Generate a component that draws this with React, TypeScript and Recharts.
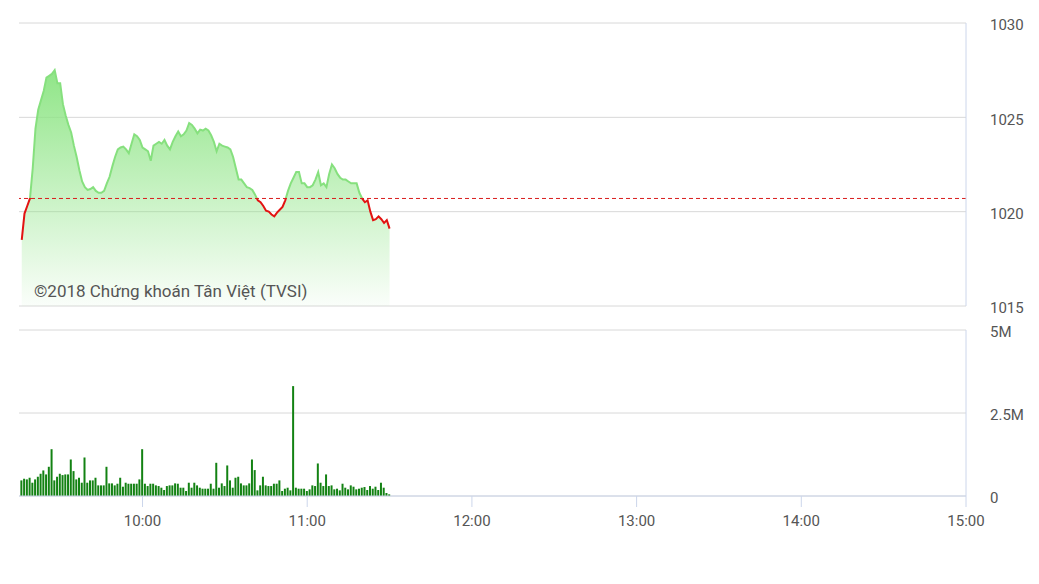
import { ComposedChart, Area, BarChart, Bar, XAxis, YAxis, CartesianGrid, ReferenceLine } from 'recharts'

// session / axis setup
const SESSION_START = '09:15'
const SESSION_END = '15:00'
const FIRST_TICK = '09:16'
const timeTicks = ['10:00', '11:00', '12:00', '13:00', '14:00', '15:00']
const priceTicks = [1015, 1020, 1025, 1030]
const volumeTicks = [0, 2.5, 5]
const refPrice = 1020.7

// VN-Index, one value per minute from 09:16
const priceValues = [
  1018.5, 1019.9, 1020.3, 1020.7, 1022.3, 1024.4, 1025.4, 1025.9, 1026.4, 1027.1,
  1027.2, 1027.3, 1027.5, 1026.8, 1026.8, 1025.7, 1025.1, 1024.6, 1024.2, 1023.5,
  1022.9, 1022.2, 1021.6, 1021.3, 1021.15, 1021.2, 1021.3, 1021.1, 1021.0, 1021.0,
  1021.1, 1021.5, 1021.85, 1022.4, 1022.9, 1023.3, 1023.4, 1023.45, 1023.3, 1023.1,
  1023.6, 1024.1, 1024.0, 1023.8, 1023.4, 1023.3, 1023.2, 1022.7, 1023.5, 1023.6,
  1023.7, 1023.6, 1023.8, 1023.5, 1023.3, 1023.7, 1024.0, 1024.25, 1024.0, 1024.1,
  1024.3, 1024.7, 1024.6, 1024.4, 1024.15, 1024.35, 1024.3, 1024.4, 1024.3, 1024.05,
  1023.7, 1023.2, 1023.6, 1023.5, 1023.45, 1023.4, 1023.3, 1022.9, 1022.3, 1021.7,
  1021.7, 1021.5, 1021.3, 1021.25, 1021.15, 1020.9, 1020.6, 1020.5, 1020.3, 1020.05,
  1020.0, 1019.85, 1019.75, 1019.95, 1020.1, 1020.25, 1020.6, 1021.1, 1021.5, 1021.8,
  1022.1, 1022.1, 1021.5, 1021.5, 1021.3, 1021.3, 1021.4, 1021.7, 1022.1, 1021.4,
  1021.5, 1021.3, 1022.0, 1022.5, 1022.3, 1022.0, 1021.8, 1021.7, 1021.7, 1021.6,
  1021.5, 1021.5, 1021.5, 1021.0, 1020.7, 1020.5, 1020.6, 1020.0, 1019.55, 1019.6,
  1019.75, 1019.6, 1019.4, 1019.55, 1019.1,
]

// volume in millions of shares, same minutes
const volumeValues = [
  0.47, 0.52, 0.5, 0.55, 0.4, 0.5, 0.58, 0.67, 0.77, 0.65,
  0.88, 1.41, 0.47, 0.58, 0.67, 0.63, 0.65, 0.65, 1.1, 0.75,
  0.5, 0.55, 0.4, 1.16, 0.4, 0.47, 0.47, 0.55, 0.32, 0.32,
  0.32, 0.88, 0.38, 0.38, 0.32, 0.37, 0.55, 0.28, 0.4, 0.37,
  0.37, 0.37, 0.37, 0.5, 1.41, 0.37, 0.3, 0.37, 0.37, 0.32,
  0.3, 0.25, 0.18, 0.3, 0.32, 0.32, 0.38, 0.37, 0.25, 0.25,
  0.15, 0.4, 0.25, 0.4, 0.32, 0.25, 0.22, 0.22, 0.22, 0.37,
  0.22, 1.0, 0.25, 0.38, 0.3, 0.92, 0.47, 0.25, 0.55, 0.58,
  0.38, 0.32, 0.32, 0.38, 1.1, 0.78, 0.17, 0.32, 0.58, 0.32,
  0.3, 0.3, 0.37, 0.37, 0.47, 0.15, 0.22, 0.25, 0.17, 3.31,
  0.25, 0.22, 0.22, 0.22, 0.15, 0.2, 0.32, 0.3, 0.98, 0.4,
  0.3, 0.65, 0.3, 0.32, 0.2, 0.22, 0.17, 0.37, 0.25, 0.2,
  0.32, 0.28, 0.2, 0.22, 0.25, 0.27, 0.18, 0.3, 0.22, 0.28,
  0.18, 0.4, 0.25, 0.09, 0.05,
]

const toMin = (s: string) => {
  const [h, m] = s.split(':').map(Number)
  return h * 60 + m
}
const fmtTime = (v: number) =>
  `${String(Math.floor(v / 60)).padStart(2, '0')}:${String(v % 60).padStart(2, '0')}`

const start = toMin(FIRST_TICK)
const domainX = [toMin(SESSION_START), toMin(SESSION_END)]
const priceData = priceValues.map((p, i) => ({ t: start + i, price: p }))
const volumeData = volumeValues.map((v, i) => ({ t: start + i, vol: v }))

const maxP = Math.max(...priceValues)
const minP = Math.min(...priceValues)
const splitOffset = (maxP - refPrice) / (maxP - minP)

const tickStyle = { fill: '#555', fontSize: 15 }
const yTickStyle = { ...tickStyle, dy: 2 }

export default function App() {
  return (
    <div style={{ position: 'absolute', left: 0, top: 0, width: 1039, height: 584, fontFamily: 'Roboto, sans-serif', background: '#fff' }}>
      <div style={{ position: 'absolute', left: 0, top: 0 }}>
        <ComposedChart width={1039} height={320} data={priceData} margin={{ top: 23, right: 0, left: 19, bottom: 14 }}>
          <defs>
            <linearGradient id="priceStroke" x1="0" y1="0" x2="0" y2="1">
              <stop offset={0} stopColor="#86e07e" />
              <stop offset={splitOffset} stopColor="#86e07e" />
              <stop offset={splitOffset} stopColor="#e31212" />
              <stop offset={1} stopColor="#e31212" />
            </linearGradient>
            <linearGradient id="priceFill" x1="0" y1="0" x2="0" y2="1">
              <stop offset="0%" stopColor="#8ae481" stopOpacity={0.95} />
              <stop offset="100%" stopColor="#8ae481" stopOpacity={0.04} />
            </linearGradient>
          </defs>
          <CartesianGrid vertical={false} stroke="#d8d8d8" />
          <XAxis dataKey="t" type="number" domain={domainX} hide />
          <YAxis
            orientation="right"
            width={73}
            domain={[1015, 1030]}
            ticks={priceTicks}
            tickLine={false}
            tickSize={6}
            tickMargin={18}
            axisLine={{ stroke: '#ccd6eb' }}
            tick={yTickStyle}
          />
          <Area
            type="linear"
            dataKey="price"
            stroke="url(#priceStroke)"
            strokeWidth={2}
            fill="url(#priceFill)"
            fillOpacity={1}
            isAnimationActive={false}
            dot={false}
            activeDot={false}
          />
          <ReferenceLine y={refPrice} stroke="#d91c1c" strokeDasharray="4 3" />
        </ComposedChart>
      </div>
      <div style={{ position: 'absolute', left: 34, top: 281, fontSize: 17, color: '#555', whiteSpace: 'nowrap' }}>
        ©2018 Chứng khoán Tân Việt (TVSI)
      </div>
      <div style={{ position: 'absolute', left: 0, top: 320 }}>
        <BarChart width={1039} height={230} data={volumeData} margin={{ top: 10, right: 0, left: 19, bottom: 24 }}>
          <CartesianGrid vertical={false} stroke="#d8d8d8" />
          <XAxis
            dataKey="t"
            type="number"
            domain={domainX}
            ticks={timeTicks.map(toMin)}
            tickFormatter={fmtTime}
            height={30}
            tickSize={11}
            tickMargin={8}
            axisLine={{ stroke: '#ccd6eb' }}
            tickLine={{ stroke: '#ccd6eb' }}
            tick={tickStyle}
          />
          <YAxis
            orientation="right"
            width={73}
            domain={[0, 5]}
            ticks={volumeTicks}
            tickFormatter={(v: number) => (v === 0 ? '0' : `${v}M`)}
            tickLine={false}
            tickSize={6}
            tickMargin={18}
            axisLine={{ stroke: '#ccd6eb' }}
            tick={yTickStyle}
          />
          <Bar dataKey="vol" fill="#138213" barSize={2} isAnimationActive={false} />
        </BarChart>
      </div>
    </div>
  )
}
